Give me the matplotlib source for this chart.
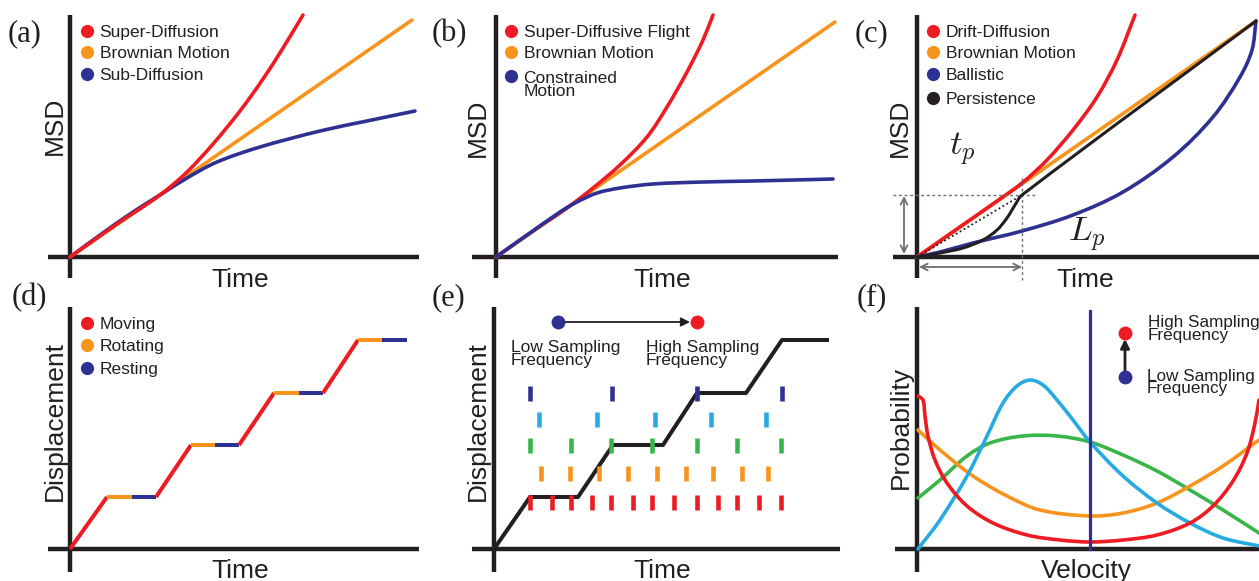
import numpy as np
import matplotlib.pyplot as plt
from matplotlib.path import Path
from matplotlib.patches import PathPatch

plt.rcParams['font.family'] = ['Liberation Sans', 'DejaVu Sans']
plt.rcParams['mathtext.fontset'] = 'cm'

W, H = 1259, 581

red = '#ED1C24'
orange = '#F7941D'
navy = '#2E3192'
sky = '#27AAE1'
green = '#39B54A'
ink = '#231F20'
grey = '#6D6E71'

# schematic units: pixels of the drawing, measured from each panel's origin

# (a) MSD vs time
a_orange_t = [0, 342]
a_orange_msd = [0, 237]
a_red_t = [0, 47, 90, 117, 143, 170, 193, 213, 233]
a_red_msd = [0, 33, 62, 85, 113, 146, 178, 209, 242]
a_blue_t = [0, 30, 63, 90, 117, 147, 190, 250, 297, 345]
a_blue_msd = [0, 22, 45, 62, 79, 95, 110, 126, 136, 146]
a_labels = ['Super-Diffusion', 'Brownian Motion', 'Sub-Diffusion']

# (b)
b_orange_t = [0, 339]
b_orange_msd = [0, 235]
b_red_t = [0, 34, 71, 97, 124, 151, 171, 191, 207, 217]
b_red_msd = [0, 24, 49, 69, 92, 120, 150, 185, 217, 242]
b_blue_t = [0, 34, 64, 81, 101, 124, 157, 207, 257, 337]
b_blue_msd = [0, 24, 45, 55, 64, 69, 73, 75, 76, 78]
b_labels = ['Super-Diffusive Flight', 'Brownian Motion', 'Constrained\nMotion']

# (c)
c_orange_t = [0, 339]
c_orange_msd = [0, 236]
c_red_t = [0, 40, 73, 105, 130, 156, 180, 200, 218]
c_red_msd = [0, 28, 51, 74, 97, 127, 160, 197, 242]
c_blue_t = [0, 23, 56, 105, 156, 206, 256, 296, 323, 335, 339]
c_blue_msd = [0, 5, 14, 26, 42, 65, 100, 140, 180, 207, 236]
c_black_t = [0, 23, 46, 66, 80, 90, 98, 105, 339]
c_black_msd = [0, 4, 9, 17, 27, 39, 52, 62, 236]
c_tp = (105, 62)          # persistence time / length marker
c_labels = ['Drift-Diffusion', 'Brownian Motion', 'Ballistic', 'Persistence']

# (d) displacement steps
d_move_start = [0, 86, 169, 253]
d_move_end = [37, 121, 204, 288]
d_rotate_end = [62, 145, 229, 312]
d_rest_end = [86, 169, 253, 337]
d_levels = [0, 52, 104, 156, 209]
d_labels = ['Moving', 'Rotating', 'Resting']

# (e) trajectory and sampling times
e_path_t = [0, 36, 84, 119, 169, 203, 252, 288, 333]
e_path_disp = [0, 52, 52, 104, 104, 156, 156, 209, 209]
e_samples_navy = [36, 118, 203, 288]
e_samples_sky = [45, 103, 161, 217, 272]
e_samples_green = [36, 77, 117, 158, 203, 243, 287]
e_samples_orange = [47, 76, 105, 134, 163, 192, 219, 248, 274]
e_samples_red = [36, 58, 77, 98, 117, 139, 158, 180, 203, 224, 243, 265, 287]

# (f) velocity distributions
f_red_v = [1, 6, 8, 11, 18, 30, 50, 76, 110, 143, 173, 206, 240, 273, 296, 316, 330, 338, 342]
f_red_p = [153, 149, 133, 113, 89, 66, 43, 26, 14, 9, 7, 9, 14, 26, 43, 68, 96, 126, 149]
f_orange_v = [1, 23, 56, 90, 123, 173, 206, 240, 273, 306, 342]
f_orange_p = [119, 99, 73, 53, 39, 33, 36, 46, 63, 83, 109]
f_green_v = [1, 23, 50, 73, 106, 140, 173, 206, 240, 273, 306, 342]
f_green_p = [51, 69, 93, 106, 113, 113, 107, 94, 78, 59, 39, 16]
f_sky_v = [1, 23, 50, 70, 86, 100, 113, 126, 140, 156, 173, 206, 240, 273, 306, 342]
f_sky_p = [0, 29, 73, 113, 146, 163, 169, 164, 149, 129, 107, 73, 46, 26, 11, 3]
f_navy_v = 173
f_navy_p = 238

fig = plt.figure(figsize=(W / 100, H / 100), dpi=100)

LINE_GAP = 13.3   # baseline to baseline of the two-line captions, px


def figtext(x, y, s, **kw):
    """Put text at pixel position of the figure"""
    fig.text(x / W, 1 - y / H, s, **kw)


def panel(origin, box):
    """Axes whose data units are drawing pixels counted from origin (y up)"""
    ox, oy = origin
    left, right, top, bottom = box
    ax = fig.add_axes([left / W, 1 - bottom / H, (right - left) / W, (bottom - top) / H])
    ax.set_xlim(left - ox, right - ox)
    ax.set_ylim(oy - bottom, oy - top)
    ax.axis('off')
    kw = dict(color=ink, lw=3.2, solid_capstyle='butt', clip_on=False, zorder=1)
    ax.plot([left - ox, right - ox], [0, 0], **kw)
    ax.plot([0, 0], [oy - bottom, oy - top], **kw)
    return ax


def smooth(ax, x, y, color, lw=2.6, zorder=2):
    """Smooth curve through the given points (chord-length Hermite as Beziers)"""
    p = np.column_stack([x, y]).astype(float)
    d = np.hypot(*np.diff(p, axis=0).T)
    tan = np.empty_like(p)
    tan[0] = (p[1] - p[0]) / d[0]
    tan[-1] = (p[-1] - p[-2]) / d[-1]
    tan[1:-1] = (p[2:] - p[:-2]) / (d[:-1] + d[1:])[:, None]
    verts, codes = [p[0]], [Path.MOVETO]
    for i in range(len(d)):
        verts += [p[i] + tan[i] * d[i] / 3, p[i + 1] - tan[i + 1] * d[i] / 3, p[i + 1]]
        codes += [Path.CURVE4] * 3
    ax.add_patch(PathPatch(Path(verts, codes), fill=False, ec=color, lw=lw,
                           capstyle='round', joinstyle='round', zorder=zorder,
                           clip_on=False))


def caption(ax, x, y, s, size=12.5):
    """Text whose first baseline sits at y"""
    ax.text(x, y - LINE_GAP * s.count('\n'), s, fontsize=size, ha='left',
            va='baseline', color=ink, linespacing=0.78, clip_on=False)


def dot_legend(ax, x, ys, labels, colors):
    for y, lab, c in zip(ys, labels, colors):
        ax.plot(x, y, 'o', ms=9.5, color=c, mec='none', clip_on=False)
        caption(ax, x + 12.5, y - 6.2, lab)


def xlabel(x, y, s):
    figtext(x, y, s, ha='center', va='baseline', fontsize=19, color=ink)


def ylabel(x, y, s):
    figtext(x, y, s, ha='center', va='baseline', rotation=90,
            rotation_mode='anchor', fontsize=19, color=ink)


def plabel(x, y, s):
    figtext(x, y, s, ha='left', va='baseline', fontsize=22,
            family=['Liberation Serif', 'DejaVu Serif'], color=ink)


# (a)
ax = panel((70, 257), (48, 419, 15, 278))
smooth(ax, a_orange_t, a_orange_msd, orange)
smooth(ax, a_blue_t, a_blue_msd, navy)
smooth(ax, a_red_t, a_red_msd, red)
dot_legend(ax, 17, [226, 205, 183], a_labels, [red, orange, navy])

# (b)
ax = panel((496, 257), (472, 838, 15, 278))
smooth(ax, b_orange_t, b_orange_msd, orange)
smooth(ax, b_red_t, b_red_msd, red)
smooth(ax, b_blue_t, b_blue_msd, navy)
dot_legend(ax, 15, [226, 205, 181], b_labels, [red, orange, navy])

# (c)
ax = panel((917, 257), (893, 1259, 15, 278))
smooth(ax, c_orange_t, c_orange_msd, orange)
smooth(ax, c_red_t, c_red_msd, red)
smooth(ax, c_blue_t, c_blue_msd, navy)
smooth(ax, c_black_t, c_black_msd, ink, lw=2.2, zorder=3)
tx, ty = c_tp
ax.plot([0, tx], [0, ty], color=ink, lw=1.3, ls=(0, (1, 1.5)), zorder=3)
ax.plot([-24, tx + 14], [ty, ty], color=grey, lw=1.0, ls=(0, (2, 2)), clip_on=False)
ax.plot([tx, tx], [-23, ty + 17], color=grey, lw=1.0, ls=(0, (2, 2)), clip_on=False)
arrow = dict(arrowstyle='<->', color=grey, lw=1.3, mutation_scale=12, shrinkA=0, shrinkB=0)
ax.annotate('', xy=(-13, ty - 1), xytext=(-13, 3), arrowprops=arrow, annotation_clip=False)
ax.annotate('', xy=(tx, -10), xytext=(2, -10), arrowprops=arrow, annotation_clip=False)
ax.text(45, 108, r'$t_p$', fontsize=25, ha='center', va='center', color=ink)
ax.text(170, 22, r'$L_p$', fontsize=25, ha='center', va='center', color=ink)
dot_legend(ax, 16, [226, 205, 183, 159], c_labels, [red, orange, navy, ink])

# (d)
ax = panel((70, 549), (48, 419, 307, 572))
seg = dict(lw=2.9, solid_capstyle='butt')
for i in range(len(d_move_start)):
    ax.plot([d_move_start[i], d_move_end[i]], [d_levels[i], d_levels[i + 1]], color=red, **seg)
    ax.plot([d_move_end[i], d_rotate_end[i]], [d_levels[i + 1]] * 2, color=orange, **seg)
    ax.plot([d_rotate_end[i], d_rest_end[i]], [d_levels[i + 1]] * 2, color=navy, **seg)
dot_legend(ax, 17, [226, 204, 181], d_labels, [red, orange, navy])

# (e)
ax = panel((494, 549), (472, 840, 307, 572))
ax.plot(e_path_t, e_path_disp, color=ink, lw=2.9, zorder=2)
rows = [(e_samples_navy, 156, navy), (e_samples_sky, 130, sky),
        (e_samples_green, 104, green), (e_samples_orange, 76, orange),
        (e_samples_red, 47, red)]
for xs, y, c in rows:
    ax.vlines(xs, y - 7.5, y + 7.5, colors=c, lw=3.3, zorder=4)
ax.plot(64, 227, 'o', ms=10, color=navy, mec='none', zorder=5)
ax.plot(203, 227, 'o', ms=10, color=red, mec='none', zorder=5)
ax.annotate('', xy=(196, 227), xytext=(66, 227),
            arrowprops=dict(arrowstyle='-|>', color=ink, lw=1.3, mutation_scale=13,
                            shrinkA=0, shrinkB=0))
caption(ax, 17, 197.5, 'Low Sampling\nFrequency')
caption(ax, 152, 197.5, 'High Sampling\nFrequency')

# (f)
ax = panel((917, 549), (895, 1259, 307, 572))
smooth(ax, f_green_v, f_green_p, green)
smooth(ax, f_orange_v, f_orange_p, orange)
smooth(ax, f_sky_v, f_sky_p, sky)
smooth(ax, f_red_v, f_red_p, red)
ax.plot([f_navy_v, f_navy_v], [0, f_navy_p], color=navy, lw=2.3, zorder=3)
ax.plot(208, 216, 'o', ms=10, color=red, mec='none', zorder=5)
ax.plot(208, 172, 'o', ms=10, color=navy, mec='none', zorder=5)
ax.annotate('', xy=(208, 210), xytext=(208, 176),
            arrowprops=dict(arrowstyle='-|>', color=ink, lw=2.0, mutation_scale=13,
                            shrinkA=0, shrinkB=0), annotation_clip=False)
caption(ax, 231, 222.6, 'High Sampling\nFrequency', size=12.3)
caption(ax, 230, 169.3, 'Low Sampling\nFrequency', size=12.3)

# axis names
for x in (240, 662, 1085):
    xlabel(x, 287, 'Time')
xlabel(240, 578, 'Time')
xlabel(662, 578, 'Time')
xlabel(1086, 578, 'Velocity')
ylabel(61.7, 126, 'MSD')
ylabel(485, 127.5, 'MSD')
ylabel(906.7, 127.5, 'MSD')
ylabel(61.7, 421, 'Displacement')
ylabel(485, 421, 'Displacement')
ylabel(908.3, 427, 'Probability')

# panel tags
for x, y, s in [(8, 41.7, '(a)'), (432, 41.7, '(b)'), (855, 41.7, '(c)'),
                (11.7, 305, '(d)'), (432, 305, '(e)'), (857, 305, '(f)')]:
    plabel(x, y, s)

fig.savefig('out.png', dpi=100)
